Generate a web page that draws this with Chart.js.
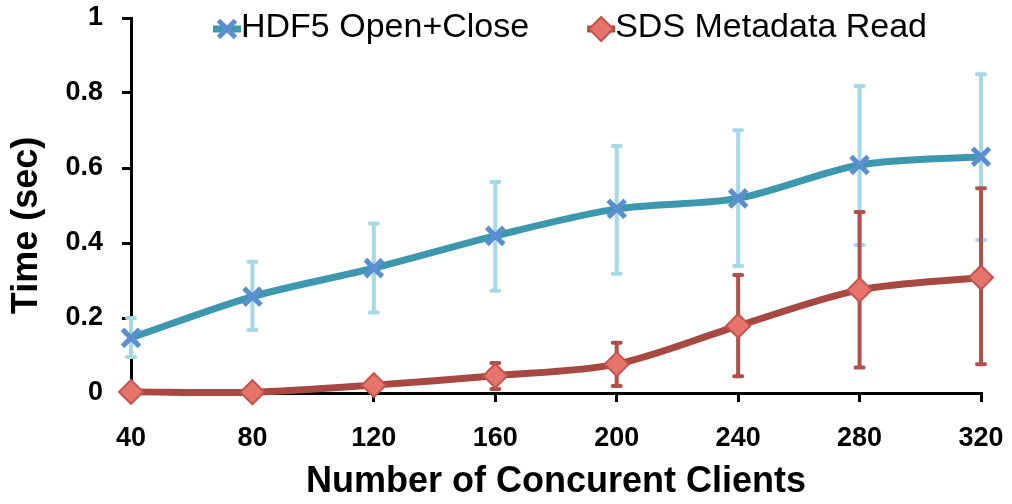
<!DOCTYPE html>
<html lang="en">
<head>
  <meta charset="UTF-8">
  <title>HDF5 Open+Close vs SDS Metadata Read</title>
  <script src="https://cdn.jsdelivr.net/npm/chart.js"></script>
  <style>
    html, body {
      margin: 0;
      padding: 0;
      background: #fff;
    }
  </style>
</head>
<body>
  <canvas id="chart" width="1012" height="504"></canvas>

  <script>
    // values
    const clients = ['40', '80', '120', '160', '200', '240', '280', '320'];
    const yTicks = [0, 0.2, 0.4, 0.6, 0.8, 1];

    const hdf5 = [0.147, 0.257, 0.333, 0.419, 0.491, 0.519, 0.608, 0.630];
    const hdf5High = [0.200, 0.350, 0.452, 0.563, 0.659, 0.701, 0.819, 0.850];
    const hdf5Low = [0.096, 0.168, 0.215, 0.273, 0.318, 0.339, 0.395, 0.408];

    const sds = [0.003, 0.002, 0.021, 0.046, 0.077, 0.179, 0.275, 0.308];
    const sdsHigh = [0.006, 0.005, 0.030, 0.080, 0.134, 0.315, 0.483, 0.546];
    const sdsLow = [0.000, 0.000, 0.012, 0.011, 0.019, 0.045, 0.068, 0.077];

    const FONT = "'Liberation Sans', Arial, sans-serif";

    // vertical error bars with small caps, drawn under the lines
    const errorBars = {
      id: 'errorBars',
      beforeDatasetsDraw(chart) {
        const ctx = chart.ctx;
        const y = chart.scales.y;
        chart.data.datasets.forEach((ds, i) => {
          const meta = chart.getDatasetMeta(i);
          ctx.save();
          ctx.strokeStyle = ds.errorColor;
          ctx.lineWidth = 4;
          ctx.lineCap = 'round';
          meta.data.forEach((pt, j) => {
            const top = y.getPixelForValue(ds.errHigh[j]);
            const bot = y.getPixelForValue(ds.errLow[j]);
            ctx.beginPath();
            ctx.moveTo(pt.x, top);
            ctx.lineTo(pt.x, bot);
            ctx.moveTo(pt.x - 4, top);
            ctx.lineTo(pt.x + 4, top);
            ctx.moveTo(pt.x - 4, bot);
            ctx.lineTo(pt.x + 4, bot);
            ctx.stroke();
          });
          ctx.restore();
        });
      }
    };

    // legend sits inside the plot, Excel style (line stub + marker + text)
    const insideLegend = {
      id: 'insideLegend',
      afterDraw(chart) {
        const ctx = chart.ctx;
        const area = chart.chartArea;
        const gapItems = 58;
        const stub = 28;
        ctx.save();
        ctx.font = '34px ' + FONT;
        ctx.textBaseline = 'middle';
        const widths = chart.data.datasets.map(ds => ctx.measureText(ds.label).width);
        const total = widths.reduce((a, w) => a + stub + w, 0) + gapItems * (widths.length - 1);
        let x = (area.left + area.right) / 2 + 14 - total / 2;
        const yMid = area.top + 10;
        chart.data.datasets.forEach((ds, i) => {
          ctx.strokeStyle = ds.borderColor;
          ctx.lineWidth = 7;
          ctx.beginPath();
          ctx.moveTo(x, yMid + 1);
          ctx.lineTo(x + stub, yMid + 1);
          ctx.stroke();

          ctx.save();
          ctx.fillStyle = ds.pointBackgroundColor;
          ctx.strokeStyle = ds.pointBorderColor;
          ctx.lineWidth = ds.pointBorderWidth;
          Chart.helpers.drawPoint(ctx, {
            pointStyle: ds.pointStyle,
            radius: ds.pointRadius,
            borderWidth: ds.pointBorderWidth
          }, x + stub / 2, yMid + 1);
          ctx.restore();

          ctx.fillStyle = '#000';
          ctx.fillText(ds.label, x + stub, yMid);
          x += stub + widths[i] + gapItems;
        });
        ctx.restore();
      }
    };

    const axisFont = { family: FONT, size: 27, weight: 'bold' };
    const titleFont = { family: FONT, size: 36, weight: 'bold' };

    new Chart(document.getElementById('chart').getContext('2d'), {
      type: 'line',
      data: {
        labels: clients,
        datasets: [{
          label: 'HDF5 Open+Close',
          data: hdf5,
          errHigh: hdf5High,
          errLow: hdf5Low,
          errorColor: '#A6D8E7',
          borderColor: '#3D98AF',
          borderWidth: 7,
          tension: 0.3,
          pointStyle: 'crossRot',
          pointRadius: 12,
          pointBorderWidth: 5,
          pointBorderColor: '#5C8FCF',
          pointBackgroundColor: '#5C8FCF',
          clip: false
        }, {
          label: 'SDS Metadata Read',
          data: sds,
          errHigh: sdsHigh,
          errLow: sdsLow,
          errorColor: '#B0504B',
          borderColor: '#A84843',
          borderWidth: 7,
          tension: 0.3,
          pointStyle: 'rectRot',
          pointRadius: 12,
          pointBorderWidth: 2,
          pointBorderColor: '#C5534E',
          pointBackgroundColor: '#E5746D',
          clip: false
        }]
      },
      options: {
        responsive: false,
        animation: false,
        devicePixelRatio: 1,
        layout: {
          padding: { top: 18, right: 31, left: 0, bottom: 0 }
        },
        plugins: {
          legend: { display: false },
          tooltip: { enabled: false }
        },
        scales: {
          x: {
            offset: false,
            grid: {
              display: true,
              drawOnChartArea: false,
              drawTicks: true,
              tickLength: 9,
              color: '#000',
              lineWidth: 3,
              offset: false
            },
            border: { display: true, color: '#000', width: 3 },
            ticks: { color: '#000', font: axisFont, padding: 20, maxRotation: 0 },
            title: {
              display: true,
              text: 'Number of Concurent Clients',
              color: '#000',
              font: titleFont,
              padding: { top: 0, bottom: 0 }
            },
            afterFit: s => {
              s.height = 111;
              s.paddingLeft = 0;
              s.paddingRight = 0;
            }
          },
          y: {
            min: 0,
            max: 1,
            afterBuildTicks: s => { s.ticks = yTicks.map(v => ({ value: v })); },
            grid: {
              display: true,
              drawOnChartArea: false,
              drawTicks: true,
              tickLength: 9,
              color: '#000',
              lineWidth: 3
            },
            border: { display: true, color: '#000', width: 3 },
            ticks: {
              color: '#000',
              font: axisFont,
              padding: 19,
              callback: v => String(+Number(v).toFixed(1))
            },
            title: {
              display: true,
              text: 'Time (sec)    ',
              color: '#000',
              font: titleFont,
              padding: { top: 5, bottom: 0 }
            },
            afterFit: s => {
              s.width = 131;
              s.paddingTop = 0;
              s.paddingBottom = 0;
            }
          }
        }
      },
      plugins: [errorBars, insideLegend]
    });
  </script>
</body>
</html>
